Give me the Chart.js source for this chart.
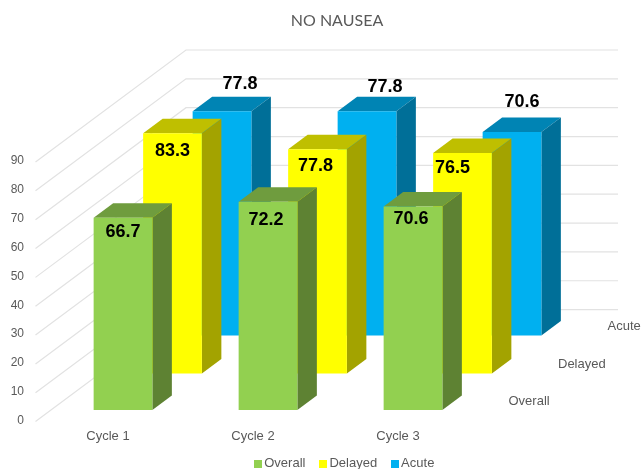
<!DOCTYPE html>
<html>
<head>
<meta charset="utf-8">
<style>
  html, body { margin: 0; padding: 0; background: #fff; }
  canvas { display: block; }
</style>
<script src="https://cdn.jsdelivr.net/npm/chart.js@4"></script>
</head>
<body>
<canvas id="chart" width="641" height="469"></canvas>
<script>
const cycles = ["Cycle 1", "Cycle 2", "Cycle 3"];
const seriesNames = ["Overall", "Delayed", "Acute"];
const overall = [66.7, 72.2, 70.6];
const delayed = [83.3, 77.8, 76.5];
const acute = [77.8, 77.8, 70.6];

// warna tiap seri: depan, atas, samping
const faceColors = [
  ["#92D050", "#6F9C3E", "#5E8233"],
  ["#FFFF00", "#BFBF00", "#A3A300"],
  ["#00B0F0", "#0084B4", "#006F98"],
];
// geser tiap seri ke belakang (pseudo 3D)
const seriesShift = [
  { x: 15, y: -11.5 },
  { x: 64.5, y: -48 },
  { x: 114, y: -86 },
];
const barDepth = { x: 19.5, y: -14.5 };
const wallShift = { x: 150.5, y: -112 };
// posisi label angka relatif ke tengah atas bar
const labelNudge = [
  [[0, 14], [-2, 18], [-2, 13]],
  [[0, 18], [-2, 17], [-10, 15]],
  [[18, -27], [18, -24], [10, -30]],
];

function swatch(color) {
  const c = document.createElement("canvas");
  c.width = 8;
  c.height = 8;
  const g = c.getContext("2d");
  g.fillStyle = color;
  g.fillRect(0, 0, 8, 8);
  return c;
}

const depthPlugin = {
  id: "depth",
  afterLayout(chart) {
    const title = chart.titleBlock;
    title.left = 237;
    title.right = 437;
    const legend = chart.legend;
    const h = legend.height;
    legend.left = 196;
    legend.right = 496;
    legend.top = 440;
    legend.bottom = 440 + h;
    // supaya label sumbu x tidak terpotong
    chart.scales.x.bottom = 469;
  },
  beforeDatasetsDraw(chart) {
    const { ctx, chartArea, scales } = chart;
    ctx.save();
    ctx.strokeStyle = "#E2E2E2";
    ctx.lineWidth = 1.2;
    scales.y.ticks.forEach((t) => {
      const y = scales.y.getPixelForValue(t.value);
      ctx.beginPath();
      ctx.moveTo(chartArea.left, y);
      ctx.lineTo(chartArea.left + wallShift.x, y + wallShift.y);
      ctx.lineTo(chartArea.right + wallShift.x - 3, y + wallShift.y);
      ctx.stroke();
    });
    ctx.restore();

    // nama seri di sisi kanan
    ctx.save();
    ctx.font = "13px 'Liberation Sans'";
    ctx.fillStyle = "#595959";
    ctx.textBaseline = "middle";
    seriesNames.forEach((name, i) => {
      const s = seriesShift[i];
      ctx.fillText(name, chartArea.right + s.x + 23, chartArea.bottom + s.y - 9);
    });
    ctx.restore();
  },
  beforeDatasetDraw(chart, args) {
    const { ctx } = chart;
    const i = args.index;
    const s = seriesShift[i];
    ctx.save();
    ctx.translate(s.x, s.y);
    args.meta.data.forEach((bar) => {
      const left = bar.x - bar.width / 2;
      const right = bar.x + bar.width / 2;
      // sisi atas
      ctx.fillStyle = faceColors[i][1];
      ctx.beginPath();
      ctx.moveTo(left, bar.y);
      ctx.lineTo(left + barDepth.x, bar.y + barDepth.y);
      ctx.lineTo(right + barDepth.x, bar.y + barDepth.y);
      ctx.lineTo(right, bar.y);
      ctx.closePath();
      ctx.fill();
      // sisi kanan
      ctx.fillStyle = faceColors[i][2];
      ctx.beginPath();
      ctx.moveTo(right, bar.y);
      ctx.lineTo(right + barDepth.x, bar.y + barDepth.y);
      ctx.lineTo(right + barDepth.x, bar.base + barDepth.y);
      ctx.lineTo(right, bar.base);
      ctx.closePath();
      ctx.fill();
    });
  },
  afterDatasetDraw(chart, args) {
    const { ctx } = chart;
    const i = args.index;
    ctx.font = "bold 18px 'Liberation Sans'";
    ctx.fillStyle = "#000";
    ctx.textAlign = "center";
    ctx.textBaseline = "middle";
    args.meta.data.forEach((bar, j) => {
      const n = labelNudge[i][j];
      ctx.fillText(chart.data.datasets[i].data[j].toFixed(1), bar.x + n[0], bar.y + n[1]);
    });
    ctx.restore();
  },
};

const datasets = seriesNames.map((name, i) => ({
  label: name,
  data: [overall, delayed, acute][i],
  backgroundColor: faceColors[i][0],
  grouped: false,
  clip: false,
  barPercentage: 0.405,
  categoryPercentage: 1,
}));

new Chart(document.getElementById("chart"), {
  type: "bar",
  data: { labels: cycles, datasets: datasets },
  plugins: [depthPlugin],
  options: {
    responsive: false,
    animation: false,
    layout: { padding: { left: 0, right: 170.5, top: 0, bottom: -10 } },
    plugins: {
      tooltip: { enabled: false },
      title: {
        display: true,
        text: "NO NAUSEA",
        color: "#595959",
        font: { family: "Lato", size: 16, weight: "normal" },
        padding: { top: 11, bottom: 131.8 },
      },
      legend: {
        position: "bottom",
        labels: {
          color: "#595959",
          font: { family: "'Liberation Sans'", size: 13 },
          usePointStyle: true,
          boxWidth: 0.1,
          boxHeight: 8,
          padding: 17.4,
          generateLabels() {
            return seriesNames.map((name, i) => ({
              text: name,
              fontColor: "#595959",
              pointStyle: swatch(faceColors[i][0]),
              datasetIndex: i,
            }));
          },
        },
      },
    },
    scales: {
      x: {
        grid: { display: false, drawTicks: false },
        border: { display: false },
        ticks: { color: "#595959", font: { family: "'Liberation Sans'", size: 13 }, padding: 7 },
        afterFit(s) { s.height = 17; },
      },
      y: {
        min: 0,
        max: 90,
        grid: { display: false, drawTicks: false },
        border: { display: false },
        ticks: {
          stepSize: 10,
          color: "#595959",
          font: { family: "'Liberation Sans'", size: 12 },
          padding: 11.5,
          labelOffset: -1,
        },
        afterFit(s) { s.width = 35.5; },
      },
    },
  },
});
</script>
</body>
</html>
